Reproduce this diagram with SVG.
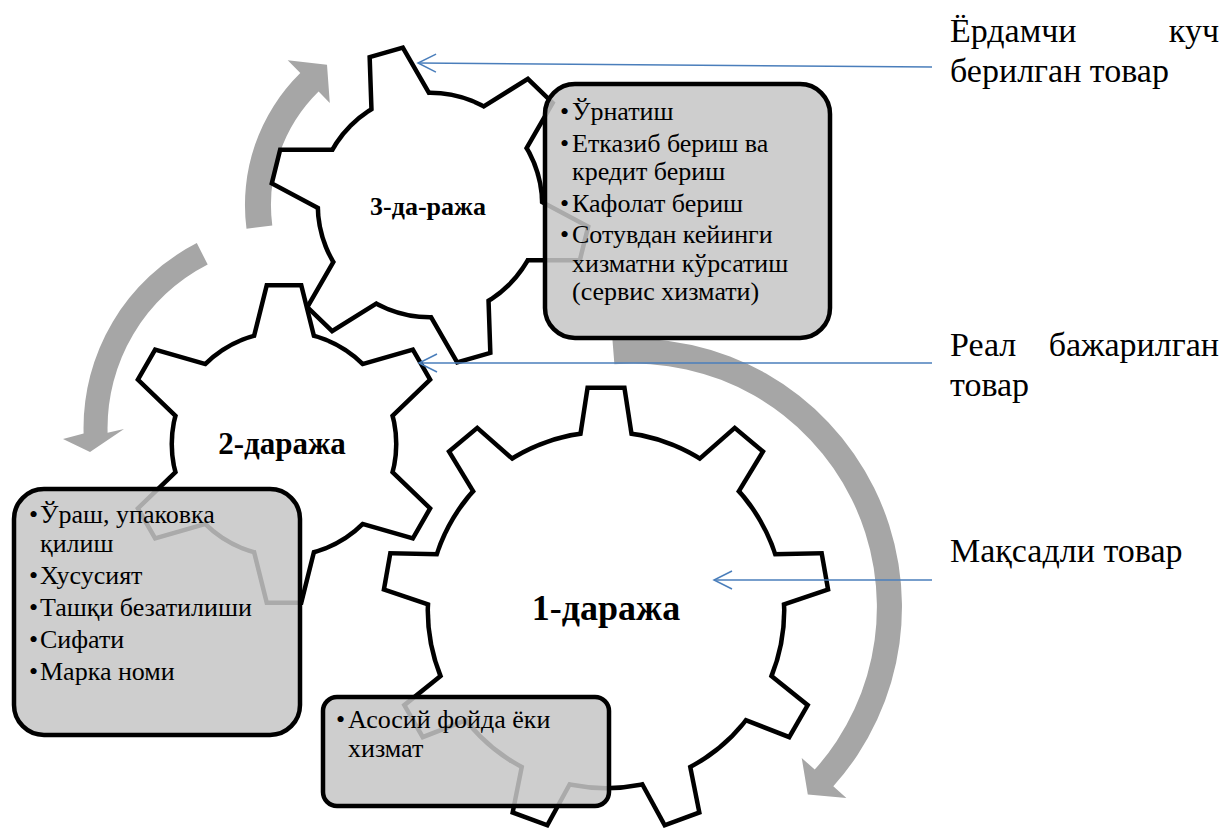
<svg xmlns="http://www.w3.org/2000/svg" xmlns:xlink="http://www.w3.org/1999/xlink" width="1222" height="828" viewBox="0 0 1222 828">
<style>
.arr{fill:#a6a6a6}
.gk{fill:#000;stroke:#000;stroke-width:9;stroke-linejoin:miter}
.gw{fill:#fff}
.box{fill:#c6c6c6;fill-opacity:0.86;stroke:#000;stroke-width:4.5}
.bt{font-family:"Liberation Serif","Times New Roman",serif;font-size:26px;fill:#000}
.gl{font-family:"Liberation Serif","Times New Roman",serif;font-weight:bold;fill:#000;text-anchor:middle}
.lab{font-family:"Liberation Serif","Times New Roman",serif;font-size:34px;fill:#000}
.con{stroke:#4a7ebb;stroke-width:1.5;fill:none;marker-end:url(#ah)}
</style>
<defs>
<path id="t23" d="M -31.75,-91.5 L -28,-106.4 L -15.5,-156.5 L 15.5,-156.5 L 28,-106.4 L 31.75,-91.5 Z"/>
<path id="t1" d="M -25.6,-160.7 L -23.5,-174.4 L -16.5,-220 L 16.5,-220 L 23.5,-174.4 L 25.6,-160.7 Z"/>
<marker id="ah" markerUnits="userSpaceOnUse" markerWidth="24" markerHeight="24" viewBox="-22 -12 24 24" refX="0" refY="0" orient="auto">
<path d="M -18,-9 L 0,0 L -18,9" fill="none" stroke="#4a7ebb" stroke-width="1.5"/>
</marker>
</defs>

<g id="cycle-arrows">
<path class="arr" d="M 246.5,228.8 A 185 185 0 0 1 300.3,73.0 L 287.7,60.2 L 327.0,64.8 L 329.8,103.0 L 318.6,91.6 A 159 159 0 0 0 272.3,225.5 Z"/>
<path class="arr" d="M 196.8,243.1 A 207.5 207.5 0 0 0 83.6,433.4 L 63,439 L 90,452 L 124,429 L 107.6,432.8 A 183.5 183.5 0 0 1 207.7,264.5 Z"/>
<path class="arr" d="M 612.4,339.3 A 268.5 268.5 0 0 1 833.3,786.3 L 846.4,798 L 807.8,794.5 L 801.7,757.9 L 814.7,769.6 A 243.5 243.5 0 0 0 614.4,364.3 Z"/>
</g>

<g id="gear3" transform="translate(430,205)">
<g class="gk"><circle r="110"/><use xlink:href="#t23" transform="rotate(-16)"/><use xlink:href="#t23" transform="rotate(44)"/><use xlink:href="#t23" transform="rotate(104)"/><use xlink:href="#t23" transform="rotate(164)"/><use xlink:href="#t23" transform="rotate(224)"/><use xlink:href="#t23" transform="rotate(284)"/></g>
<g class="gw"><circle r="110"/><use xlink:href="#t23" transform="rotate(-16)"/><use xlink:href="#t23" transform="rotate(44)"/><use xlink:href="#t23" transform="rotate(104)"/><use xlink:href="#t23" transform="rotate(164)"/><use xlink:href="#t23" transform="rotate(224)"/><use xlink:href="#t23" transform="rotate(284)"/></g>
<text class="gl" x="-2" y="10" font-size="26">3-да-ража</text>
</g>

<g id="gear2" transform="translate(284,444)">
<g class="gk"><circle r="110"/><use xlink:href="#t23"/><use xlink:href="#t23" transform="rotate(60)"/><use xlink:href="#t23" transform="rotate(120)"/><use xlink:href="#t23" transform="rotate(180)"/><use xlink:href="#t23" transform="rotate(240)"/><use xlink:href="#t23" transform="rotate(300)"/></g>
<g class="gw"><circle r="110"/><use xlink:href="#t23"/><use xlink:href="#t23" transform="rotate(60)"/><use xlink:href="#t23" transform="rotate(120)"/><use xlink:href="#t23" transform="rotate(180)"/><use xlink:href="#t23" transform="rotate(240)"/><use xlink:href="#t23" transform="rotate(300)"/></g>
<text class="gl" x="-2" y="10" font-size="31">2-даража</text>
</g>

<g id="gear1" transform="translate(606,610)">
<g class="gk"><circle r="176"/><use xlink:href="#t1"/><use xlink:href="#t1" transform="rotate(40)"/><use xlink:href="#t1" transform="rotate(80)"/><use xlink:href="#t1" transform="rotate(120)"/><use xlink:href="#t1" transform="rotate(160)"/><use xlink:href="#t1" transform="rotate(200)"/><use xlink:href="#t1" transform="rotate(240)"/><use xlink:href="#t1" transform="rotate(280)"/><use xlink:href="#t1" transform="rotate(320)"/></g>
<g class="gw"><circle r="176"/><use xlink:href="#t1"/><use xlink:href="#t1" transform="rotate(40)"/><use xlink:href="#t1" transform="rotate(80)"/><use xlink:href="#t1" transform="rotate(120)"/><use xlink:href="#t1" transform="rotate(160)"/><use xlink:href="#t1" transform="rotate(200)"/><use xlink:href="#t1" transform="rotate(240)"/><use xlink:href="#t1" transform="rotate(280)"/><use xlink:href="#t1" transform="rotate(320)"/></g>
<text class="gl" x="0" y="10" font-size="36">1-даража</text>
</g>

<g id="box3">
<rect class="box" x="545" y="84" width="285" height="254" rx="30"/>
<text class="bt" x="560" y="120">•</text><text class="bt" x="572" y="120">Ўрнатиш</text>
<text class="bt" x="560" y="152">•</text><text class="bt" x="572" y="152">Етказиб бериш ва</text>
<text class="bt" x="572" y="180">кредит бериш</text>
<text class="bt" x="560" y="212">•</text><text class="bt" x="572" y="212">Кафолат бериш</text>
<text class="bt" x="560" y="243">•</text><text class="bt" x="572" y="243">Сотувдан кейинги</text>
<text class="bt" x="572" y="271.5">хизматни кўрсатиш</text>
<text class="bt" x="572" y="300">(сервис хизмати)</text>
</g>

<g id="box2">
<rect class="box" x="14" y="489" width="286" height="246" rx="30"/>
<text class="bt" x="29" y="523">•</text><text class="bt" x="40" y="523">Ўраш, упаковка</text>
<text class="bt" x="40" y="551.5">қилиш</text>
<text class="bt" x="29" y="583.5">•</text><text class="bt" x="40" y="583.5">Хусусият</text>
<text class="bt" x="29" y="615.5">•</text><text class="bt" x="40" y="615.5">Ташқи безатилиши</text>
<text class="bt" x="29" y="647.5">•</text><text class="bt" x="40" y="647.5">Сифати</text>
<text class="bt" x="29" y="679.5">•</text><text class="bt" x="40" y="679.5">Марка номи</text>
</g>

<g id="box1">
<rect class="box" x="323" y="697" width="286" height="109" rx="14"/>
<text class="bt" x="336" y="728">•</text><text class="bt" x="348" y="728">Асосий фойда ёки</text>
<text class="bt" x="348" y="757">хизмат</text>
</g>

<g id="connectors">
<line class="con" x1="932" y1="67" x2="418" y2="63"/>
<line class="con" x1="932" y1="363" x2="419" y2="363"/>
<line class="con" x1="932" y1="580" x2="714" y2="580"/>
</g>

<g id="labels">
<text class="lab" x="950" y="42">Ёрдамчи</text><text class="lab" x="1219" y="42" text-anchor="end">куч</text>
<text class="lab" x="950" y="82">берилган товар</text>
<text class="lab" x="950" y="356">Реал</text><text class="lab" x="1219" y="356" text-anchor="end">бажарилган</text>
<text class="lab" x="950" y="396">товар</text>
<text class="lab" x="950" y="562">Мақсадли товар</text>
</g>
</svg>
